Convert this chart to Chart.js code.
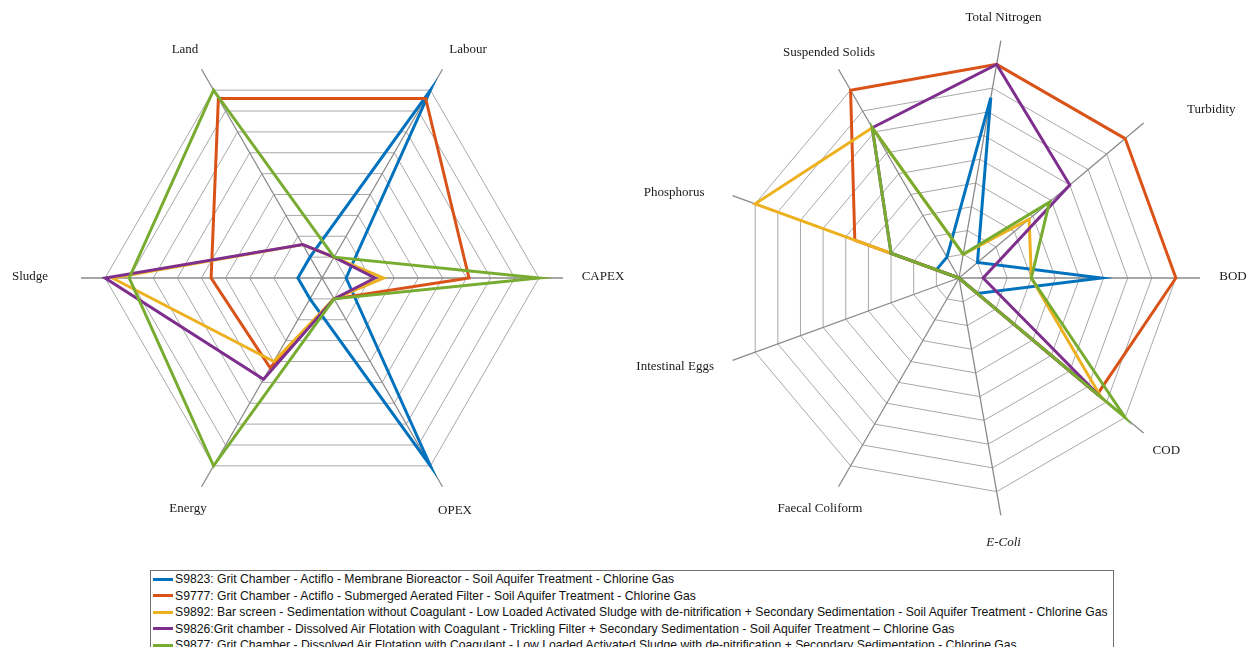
<!DOCTYPE html>
<html>
<head>
<meta charset="utf-8">
<script src="https://cdn.jsdelivr.net/npm/chart.js@4.4.1/dist/chart.umd.min.js"></script>
<style>
    html, body { margin: 0; padding: 0; background: #fff; overflow: hidden; }
    body { width: 1255px; height: 647px; position: relative; }
    #left-chart { position: absolute; left: 0; top: 0; }
    #right-chart { position: absolute; left: 630px; top: 0; }
    .legend {
        position: absolute; left: 150px; top: 570px; width: 964px; height: 95px;
        border: 1px solid #6e6e6e; box-sizing: border-box;
        font-family: "Liberation Sans", Arial, sans-serif; font-size: 12.2px; color: #111;
    }
    .legend-row { height: 16.5px; line-height: 16.5px; white-space: nowrap; display: flex; align-items: center; }
    .swatch { display: inline-block; flex-shrink: 0; width: 20px; height: 3px; margin: 0 2px 0 2px; }
</style>
</head>
<body>
<canvas id="left-chart" width="630" height="560"></canvas>
<canvas id="right-chart" width="625" height="560"></canvas>
<div class="legend" id="legend"></div>

<script>
// axes (clockwise from the right-hand axis)
const costLabels = ['CAPEX', 'OPEX', 'Energy', 'Sludge', 'Land', 'Labour'];
const qualityLabels = ['BOD', 'COD', 'E-Coli', 'Faecal Coliform', 'Intestinal Eggs', 'Phosphorus', 'Suspended Solids', 'Total Nitrogen', 'Turbidity'];

const seriesNames = [
    'S9823: Grit Chamber - Actiflo - Membrane Bioreactor - Soil Aquifer Treatment - Chlorine Gas',
    'S9777: Grit Chamber - Actiflo - Submerged Aerated Filter - Soil Aquifer Treatment - Chlorine Gas',
    'S9892: Bar screen - Sedimentation without Coagulant - Low Loaded Activated Sludge with de-nitrification + Secondary Sedimentation - Soil Aquifer Treatment - Chlorine Gas',
    'S9826:Grit chamber - Dissolved Air Flotation with Coagulant - Trickling Filter + Secondary Sedimentation - Soil Aquifer Treatment \u2013 Chlorine Gas',
    'S9877: Grit Chamber - Dissolved Air Flotation with Coagulant - Low Loaded Activated Sludge with de-nitrification + Secondary Sedimentation - Chlorine Gas'
];
const seriesColors = ['#0072BD', '#D95319', '#EDB120', '#7E2F8E', '#77AC30'];

// left chart: CAPEX, OPEX, Energy, Sludge, Land, Labour
const costS9823 = [1, 9, 1, 1, 1, 9];
const costS9777 = [6.1, 1, 4.3, 4.6, 8.6, 8.6];
const costS9892 = [2.55, 1, 4.0, 8.7, 1.6, 1];
const costS9826 = [2.2, 1, 4.85, 9, 1.6, 1];
const costS9877 = [9, 1, 9, 8, 9, 1];

// right chart: BOD, COD, E-Coli, Faecal, Eggs, Phosphorus, SS, TN, Turbidity
const qualS9823 = [5.9, 1, 0, 0, 0, 1, 1, 7.6, 1];
const qualS9777 = [9, 7.5, 0, 0, 0, 4.6, 9, 9, 9];
const qualS9892 = [3, 7.7, 0, 0, 0, 9, 7.2, 1, 3.8];
const qualS9826 = [1, 7.6, 0, 0, 0, 3, 7.2, 9, 6];
const qualS9877 = [3, 9, 0, 0, 0, 3, 7.2, 1, 4.9];

const gridMax = 10;   // rings drawn up to 9, spokes run on to 10

// draws the axis names around the web
const axisLabelPlugin = {
    id: 'axisLabels',
    afterDraw(chart, args, opts) {
        const scale = chart.scales.r;
        const ctx = chart.ctx;
        ctx.save();
        ctx.fillStyle = '#1a1a1a';
        ctx.textAlign = 'center';
        ctx.textBaseline = 'middle';
        chart.data.labels.forEach((label, i) => {
            const p = scale.getPointPosition(i, opts.distance);
            const nudge = opts.nudge[i] || [0, 0];
            const style = opts.italic.includes(label) ? 'italic ' : '';
            ctx.font = style + '13px "Liberation Serif", "Times New Roman", serif';
            ctx.fillText(label, p.x + nudge[0], p.y + nudge[1]);
        });
        ctx.restore();
    }
};

function makeDatasets(rows) {
    return rows.map((data, i) => ({
        label: seriesNames[i],
        data: data,
        borderColor: seriesColors[i],
        backgroundColor: seriesColors[i],
        borderWidth: 3,
        pointRadius: 0,
        fill: false,
        tension: 0,
        order: rows.length - i
    }));
}

function radarOptions(padding, labelOpts) {
    return {
        responsive: false,
        animation: false,
        layout: { padding: padding },
        plugins: {
            legend: { display: false },
            tooltip: { enabled: false },
            axisLabels: labelOpts
        },
        scales: {
            r: {
                min: 0,
                max: gridMax,
                startAngle: 90,
                ticks: { display: false, stepSize: 1 },
                pointLabels: { display: false },
                grid: {
                    color: (c) => (c.tick && c.tick.value >= gridMax) ? 'rgba(0,0,0,0)' : '#a8a8a8',
                    lineWidth: 1
                },
                angleLines: { color: '#8a8a8a', lineWidth: 1.3 }
            }
        }
    };
}

new Chart(document.getElementById('left-chart'), {
    type: 'radar',
    data: {
        labels: costLabels,
        datasets: makeDatasets([costS9823, costS9777, costS9892, costS9826, costS9877])
    },
    options: radarOptions({ left: 81, right: 67, top: 37, bottom: 41 }, {
        distance: 268,
        italic: [],
        nudge: [[13, -1], [-1, 0], [0, -2], [-24, -1], [-3, 4], [12, 4]]
    }),
    plugins: [axisLabelPlugin]
});

new Chart(document.getElementById('right-chart'), {
    type: 'radar',
    data: {
        labels: qualityLabels,
        datasets: makeDatasets([qualS9823, qualS9777, qualS9892, qualS9826, qualS9877])
    },
    options: radarOptions({ left: 88, right: 55, top: 37, bottom: 41 }, {
        distance: 268,
        italic: ['E-Coli'],
        nudge: [[6, -1], [2, 0], [-2, 1], [-5, -2], [-32, -3], [-33, 6], [4, 7], [-2, 4], [47, 4]]
    }),
    plugins: [axisLabelPlugin]
});

// legend box under both charts
const legend = document.getElementById('legend');
seriesNames.forEach((name, i) => {
    const row = document.createElement('div');
    row.className = 'legend-row';
    row.innerHTML = `<span class="swatch" style="background:${seriesColors[i]}"></span><span>${name}</span>`;
    legend.appendChild(row);
});
</script>
</body>
</html>
